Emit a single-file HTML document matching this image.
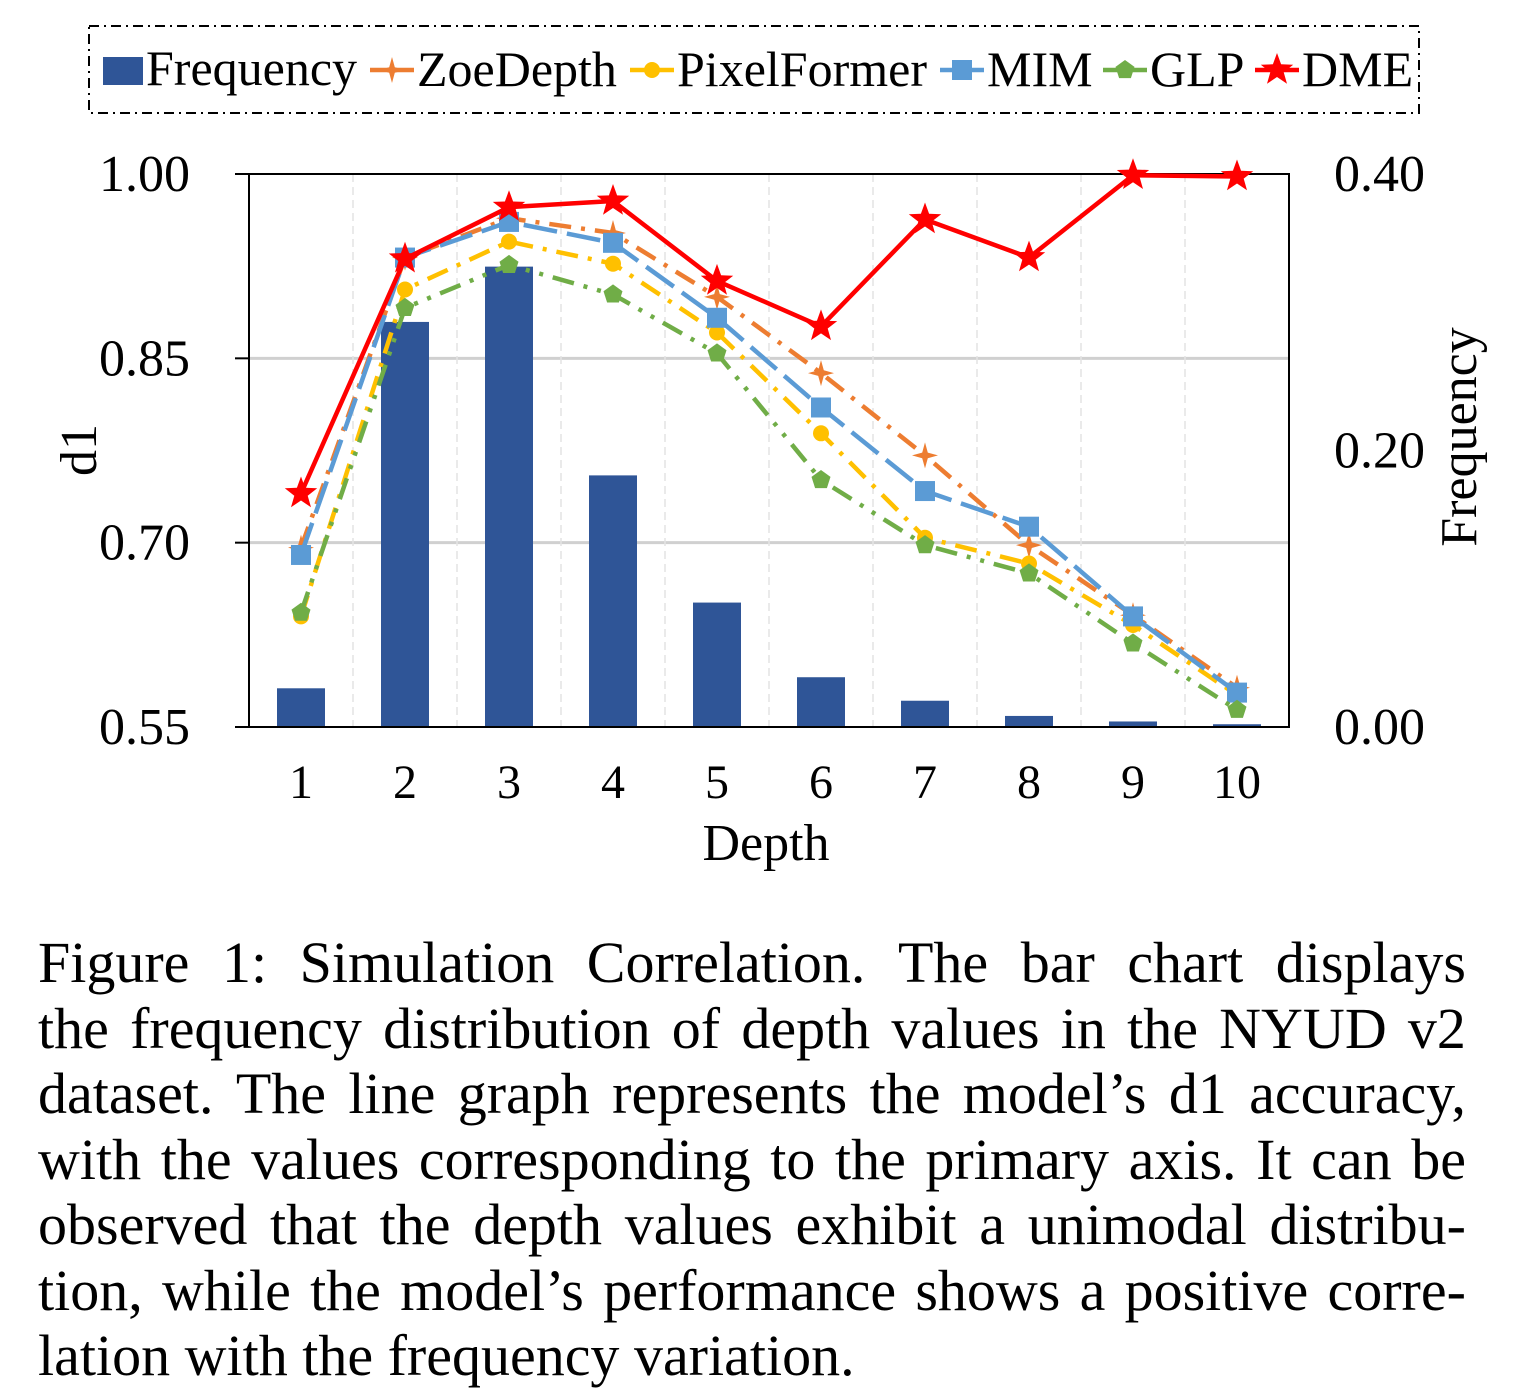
<!DOCTYPE html>
<html><head><meta charset="utf-8">
<style>
body{margin:0;background:#fff;width:1521px;height:1396px;overflow:hidden;font-family:"Liberation Serif",serif}
#cap{position:absolute;left:38px;top:930px;width:1428px;font-size:58px;line-height:65.5px;color:#000}
#cap div{white-space:nowrap;display:flex;justify-content:space-between}
#cap div.last{justify-content:flex-start;gap:0.25em}
</style></head><body>
<svg id="chart" width="1521" height="920" style="position:absolute;left:0;top:0" font-family="Liberation Serif, serif"></svg>
<div id="cap">
<div>Figure 1: Simulation Correlation. The bar chart displays</div>
<div>the frequency distribution of depth values in the NYUD v2</div>
<div>dataset. The line graph represents the model’s d1 accuracy,</div>
<div>with the values corresponding to the primary axis. It can be</div>
<div>observed that the depth values exhibit a unimodal distribu-</div>
<div>tion, while the model’s performance shows a positive corre-</div>
<div class="last">lation with the frequency variation.</div>
</div>
<script>
document.querySelectorAll('#cap div').forEach(d=>{const w=d.textContent.trim().split(/\s+/);d.textContent='';w.forEach(x=>{const s=document.createElement('span');s.textContent=x;d.appendChild(s);});});
const categories=[1,2,3,4,5,6,7,8,9,10];
const frequency=[0.028,0.293,0.333,0.182,0.090,0.036,0.019,0.008,0.004,0.002];
const zoe=[0.696,0.932,0.964,0.952,0.900,0.838,0.771,0.698,0.641,0.582];
const pixel=[0.640,0.906,0.945,0.927,0.871,0.789,0.704,0.683,0.633,0.576];
const mim=[0.690,0.932,0.961,0.944,0.883,0.810,0.742,0.713,0.640,0.578];
const glp=[0.643,0.891,0.926,0.902,0.854,0.751,0.698,0.675,0.618,0.564];
const dme=[0.740,0.931,0.973,0.978,0.913,0.876,0.963,0.932,0.999,0.998];
const leftTicks=["0.55","0.70","0.85","1.00"];
const rightTicks=["0.00","0.20","0.40"];
const svg=document.getElementById('chart');
const NS='http://www.w3.org/2000/svg';
const L=249,R=1289,T=174,B=727;
const xs=i=>L+(R-L)/categories.length*(i+0.5);
const yL=v=>B-(v-0.55)/0.45*(B-T);
const yR=v=>B-v/0.4*(B-T);
function mk(tag,at,parent){const e=document.createElementNS(NS,tag);for(const k in at)e.setAttribute(k,at[k]);(parent||svg).appendChild(e);return e;}
leftTicks.forEach(t=>{const v=+t;if(v>0.55&&v<1){const g=mk('line',{x1:L,x2:R,y1:yL(v),y2:yL(v),stroke:'#d0d0d0','stroke-width':3});

}});
for(let i=1;i<categories.length;i++){const x=L+(R-L)/categories.length*i;const g=mk('line',{x1:x,x2:x,y1:T,y2:B,stroke:'#e4e4e4','stroke-width':1.5,'stroke-dasharray':'8 5'});

}
frequency.forEach((f,i)=>{const b=mk('rect',{x:xs(i)-24,y:yR(f),width:48,height:B-yR(f),fill:'#2f5597'});

});
const fr=mk('rect',{x:L,y:T,width:R-L,height:B-T,fill:'none',stroke:'#000','stroke-width':2});


leftTicks.forEach(t=>{const y=yL(+t);mk('line',{x1:L-14,x2:L,y1:y,y2:y,stroke:'#000','stroke-width':2});
const tx=mk('text',{x:190,y:y+17,'font-size':52,'text-anchor':'end'});tx.textContent=t;

});
rightTicks.forEach(t=>{const y=yR(+t);
const tx=mk('text',{x:1334,y:y+17,'font-size':52});tx.textContent=t;

});
categories.forEach((c,i)=>{const tx=mk('text',{x:xs(i),y:798,'font-size':48,'text-anchor':'middle'});tx.textContent=c;

});
let t1=mk('text',{x:766,y:860,'font-size':52,'text-anchor':'middle'});t1.textContent='Depth';


let t2=mk('text',{x:0,y:0,'font-size':52,'text-anchor':'middle',transform:'translate(96,450) rotate(-90)'});t2.textContent='d1';


let t3=mk('text',{x:0,y:0,'font-size':52,'text-anchor':'middle',transform:'translate(1476,437) rotate(-90)'});t3.textContent='Frequency';


function marker(kind,x,y,c,g){
 if(kind==='star'||kind==='star4'){const n=kind==='star'?5:4,ro=kind==='star'?17:13,ri=kind==='star'?7:4;let p=[];
  for(let k=0;k<2*n;k++){const a=-Math.PI/2+k*Math.PI/n,r=k%2?ri:ro;p.push((x+r*Math.cos(a)).toFixed(1)+','+(y+r*Math.sin(a)).toFixed(1));}
  return mk('polygon',{points:p.join(' '),fill:c},g);}
 if(kind==='circle')return mk('circle',{cx:x,cy:y,r:8,fill:c},g);
 if(kind==='square')return mk('rect',{x:x-10,y:y-10,width:20,height:20,fill:c},g);
 if(kind==='pent'){let p=[];for(let k=0;k<5;k++){const a=-Math.PI/2+k*2*Math.PI/5;p.push((x+10*Math.cos(a)).toFixed(1)+','+(y+10*Math.sin(a)).toFixed(1));}return mk('polygon',{points:p.join(' '),fill:c},g);}
}
const series=[
 {name:'zoedepth',d:zoe,c:'#ed7d31',dash:'22 10 4 10',m:'star4'},
 {name:'pixelformer',d:pixel,c:'#ffc000',dash:'22 10 4 10',m:'circle'},
 {name:'mim',d:mim,c:'#5b9bd5',dash:'34 10',m:'square'},
 {name:'glp',d:glp,c:'#70ad47',dash:'22 10 4 10 4 10',m:'pent'},
 {name:'dme',d:dme,c:'#ff0000',dash:'',m:'star'}];
series.forEach(s=>{const g=mk('g',{});
 
 
 const pts=s.d.map((v,i)=>xs(i)+','+yL(v)).join(' ');
 mk('polyline',{points:pts,fill:'none',stroke:s.c,'stroke-width':4.5,'stroke-dasharray':s.dash,'stroke-linejoin':'round'},g);
 s.d.forEach((v,i)=>{const m=marker(s.m,xs(i),yL(v),s.c,g);
 
 });});
const lg=mk('g',{});


mk('rect',{x:89,y:26,width:1330,height:87,fill:'none',stroke:'#000','stroke-width':2,'stroke-dasharray':'10 5 2 5'},lg);
mk('rect',{x:103,y:57,width:40,height:28,fill:'#2f5597'},lg);
let lt=mk('text',{x:146,y:85,'font-size':50},lg);lt.textContent='Frequency';
const leg=[['ZoeDepth',370,'#ed7d31','star4'],['PixelFormer',630,'#ffc000','circle'],['MIM',940,'#5b9bd5','square'],['GLP',1103,'#70ad47','pent'],['DME',1255,'#ff0000','star']];
leg.forEach(([n,x,c,m])=>{const e=mk('g',{},lg);
 
 
 mk('line',{x1:x,x2:x+44,y1:70,y2:70,stroke:c,'stroke-width':4.5},e);
 marker(m,x+22,70,c,e);
 const t=mk('text',{x:x+47,y:86,'font-size':50},e);t.textContent=n;});
</script>
</body></html>
